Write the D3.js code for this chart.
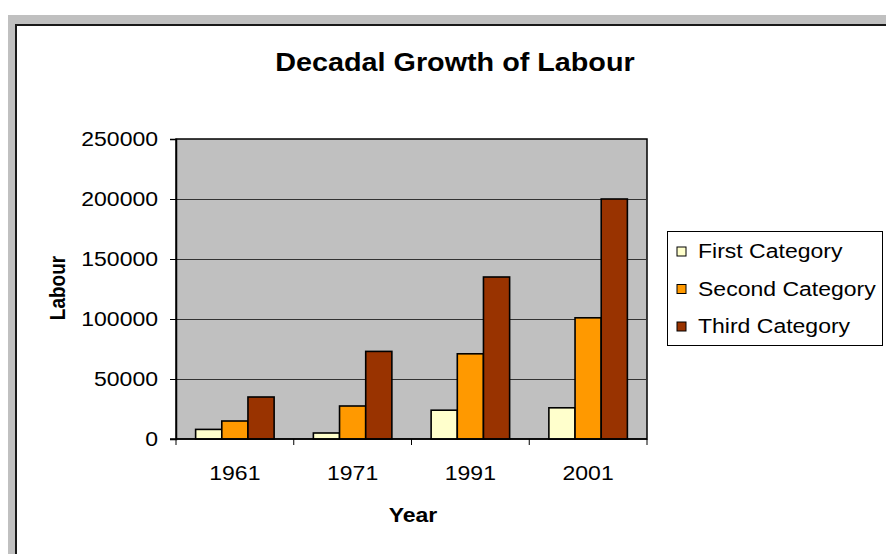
<!DOCTYPE html>
<html>
<head>
<meta charset="utf-8">
<script src="https://cdn.jsdelivr.net/npm/d3@7"></script>
<style>
  html, body { margin: 0; padding: 0; background: #fff; }
  svg { display: block; }
  text { font-family: "Liberation Sans", Arial, sans-serif; fill: #000; }
</style>
</head>
<body>
<svg id="chart" width="886" height="554"></svg>
<script>
// Labour by decade, three categories
const years = ["1961", "1971", "1991", "2001"];
const seriesNames = ["First Category", "Second Category", "Third Category"];
const firstCategory = [8000, 5000, 24000, 26000];
const secondCategory = [15000, 27500, 71000, 101000];
const thirdCategory = [35000, 73000, 135000, 200000];
const yTicks = [0, 50000, 100000, 150000, 200000, 250000];
const colors = ["#FFFFCC", "#FF9900", "#993300"];

const seriesValues = [firstCategory, secondCategory, thirdCategory];
const FONT = "Liberation Sans, Arial, sans-serif";
const WIDEN = 1.15; // horizontal widening of the lettering

const svg = d3.select("#chart");

// page backdrop and chart frame
svg.append("rect").attr("x", 8).attr("y", 15).attr("width", 900).attr("height", 600).attr("fill", "#c0c0c0");
svg.append("rect").attr("x", 16).attr("y", 25).attr("width", 900).attr("height", 600)
  .attr("fill", "#fff").attr("stroke", "#1a1a1a").attr("stroke-width", 2);

const plot = { left: 176, top: 139, right: 647, bottom: 439 };

const x = d3.scaleBand().domain(years).range([plot.left, plot.right]).paddingInner(0).paddingOuter(0);
const gap = 1.5; // gap width as a multiple of one bar
const barW = x.bandwidth() / (seriesNames.length + gap);
const xs = d3.scaleBand().domain(seriesNames)
  .range([barW * gap / 2, barW * gap / 2 + barW * seriesNames.length]);
const y = d3.scaleLinear().domain([0, 250000]).range([plot.bottom, plot.top]);

// plot area
svg.append("rect").attr("x", plot.left).attr("y", plot.top)
  .attr("width", plot.right - plot.left).attr("height", plot.bottom - plot.top)
  .attr("fill", "#c0c0c0").attr("stroke", "#000").attr("stroke-width", 1.5);

// gridlines
svg.append("g").selectAll("line").data(yTicks.filter(d => d > 0 && d < 250000)).join("line")
  .attr("x1", plot.left).attr("x2", plot.right)
  .attr("y1", d => Math.round(y(d)) + 0.5).attr("y2", d => Math.round(y(d)) + 0.5)
  .attr("stroke", "#333").attr("stroke-width", 1);

// bars
const groups = svg.append("g").selectAll("g").data(years).join("g")
  .attr("transform", d => `translate(${x(d)},0)`);
groups.selectAll("rect").data((yr, i) => seriesNames.map((s, j) => ({ s, j, v: seriesValues[j][i] })))
  .join("rect")
  .attr("x", d => xs(d.s)).attr("width", xs.bandwidth())
  .attr("y", d => y(d.v)).attr("height", d => y(0) - y(d.v))
  .attr("fill", d => colors[d.j]).attr("stroke", "#000").attr("stroke-width", 1.6);

// y axis
const yAxis = d3.axisLeft(y).tickValues(yTicks).tickSize(6).tickPadding(12).tickFormat(d3.format("d"));
const gy = svg.append("g").attr("transform", `translate(${plot.left},0)`).call(yAxis);
gy.select(".domain").attr("stroke", "#000").attr("stroke-width", 1.5);
gy.selectAll(".tick line").attr("stroke", "#000");
gy.selectAll(".tick text").attr("font-size", 20).attr("font-family", FONT).classed("wide", true);

// x axis with ticks between categories
const gx = svg.append("g").attr("transform", `translate(0,${plot.bottom})`);
gx.append("line").attr("x1", plot.left - 6).attr("x2", plot.right).attr("y1", 0).attr("y2", 0)
  .attr("stroke", "#000").attr("stroke-width", 1.5);
const bounds = years.map(d => x(d)).concat([plot.right]);
gx.selectAll("line.tk").data(bounds).join("line").attr("class", "tk")
  .attr("x1", d => d).attr("x2", d => d).attr("y1", 0).attr("y2", 6).attr("stroke", "#000");
gx.selectAll("text").data(years).join("text")
  .attr("x", d => x(d) + x.bandwidth() / 2).attr("y", 41).attr("class", "wide")
  .attr("text-anchor", "middle").attr("font-size", 20).text(d => d);

// titles
svg.append("text").attr("x", 455).attr("y", 71).attr("text-anchor", "middle").attr("class", "wide")
  .attr("font-size", 25).attr("font-weight", "bold").text("Decadal Growth of Labour");
svg.append("text").attr("x", 413).attr("y", 522).attr("text-anchor", "middle").attr("class", "wide")
  .attr("font-size", 20).attr("font-weight", "bold").text("Year");
svg.append("text").attr("transform", `translate(65,288) scale(${WIDEN},1) rotate(-90)`)
  .attr("text-anchor", "middle").attr("font-size", 19).attr("font-weight", "bold")
  .text("Labour");

// legend
const lg = svg.append("g");
lg.append("rect").attr("x", 667.5).attr("y", 231.5).attr("width", 215).attr("height", 114)
  .attr("fill", "#fff").attr("stroke", "#000");
const items = lg.selectAll("g").data(seriesNames).join("g")
  .attr("transform", (d, i) => `translate(677,${251 + i * 37.5})`);
items.append("rect").attr("x", 0).attr("y", -4).attr("width", 9).attr("height", 9)
  .attr("fill", (d, i) => colors[i]).attr("stroke", "#000");
items.append("text").attr("x", 21).attr("y", 7).attr("font-size", 20).attr("class", "wide").text(d => d);

// widen horizontal lettering
svg.selectAll("text.wide").each(function () {
  const len = this.getComputedTextLength();
  d3.select(this).attr("textLength", len * WIDEN).attr("lengthAdjust", "spacingAndGlyphs");
});
</script>
</body>
</html>
